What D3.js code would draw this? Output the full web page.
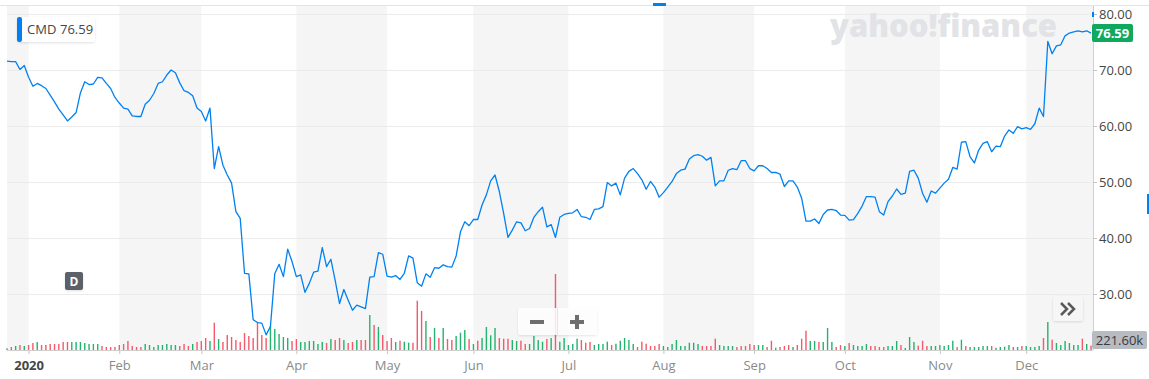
<!DOCTYPE html>
<html>
<head>
<meta charset="utf-8">
<script src="https://cdn.jsdelivr.net/npm/d3@7"></script>
<style>
  body { margin: 0; background: #fff; }
  svg { display: block; font-family: "Open Sans", "Helvetica Neue", Arial, sans-serif; }
</style>
</head>
<body>
<div id="chart"></div>
<script>
const symbol = "CMD";
const lastPrice = 76.59;
const lastVolumeLabel = "221.60k";

// trading days in each month shown (first entry = tail of Dec 2019)
const monthLabels = ["", "2020", "Feb", "Mar", "Apr", "May", "Jun", "Jul", "Aug", "Sep", "Oct", "Nov", "Dec"];
const monthDays = [5, 21, 19, 22, 21, 20, 22, 22, 21, 21, 22, 20, 16];
const priceTicks = [30, 40, 50, 60, 70, 80];

// daily closes
const closes = [
  71.6, 71.5, 71.5, 70.1, 70.8, 68.7, 67.1, 67.6, 67.2, 66.7,
  65.5, 64.3, 63.0, 62.0, 60.9, 61.6, 62.4, 65.9, 67.9, 67.4,
  67.5, 68.7, 68.6, 67.6, 66.7, 65.1, 64.1, 63.2, 63.0, 61.8,
  61.7, 61.7, 63.9, 64.6, 65.8, 67.6, 67.9, 69.1, 70.0, 69.5,
  67.7, 66.3, 66.0, 65.4, 63.2, 62.6, 60.9, 63.2, 52.4, 56.3,
  53.0, 51.25, 49.8, 44.7, 43.5, 33.7, 33.6, 25.4, 24.9, 24.8,
  22.7, 24.2, 33.6, 35.3, 33.1, 38.0, 35.8, 33.1, 33.4, 30.3,
  31.9, 33.9, 34.1, 38.3, 34.9, 36.2, 32.4, 28.3, 30.8, 28.9,
  27.1, 28.0, 27.7, 27.4, 33.0, 33.1, 37.4, 37.1, 33.2, 33.0,
  33.3, 32.6, 33.7, 36.8, 36.4, 32.0, 31.4, 33.6, 33.0, 34.7,
  34.6, 35.2, 34.9, 34.8, 36.8, 41.1, 42.9, 42.2, 43.3, 43.3,
  45.9, 47.7, 50.2, 51.25, 48.3, 44.4, 40.1, 41.4, 42.9, 42.7,
  41.3, 41.7, 43.7, 44.7, 45.5, 42.0, 42.4, 40.1, 43.7, 44.2,
  44.4, 44.5, 45.1, 43.8, 43.7, 43.3, 45.1, 45.2, 45.6, 49.9,
  49.3, 49.8, 47.7, 50.7, 51.9, 52.4, 51.5, 50.4, 48.7, 50.1,
  49.1, 47.3, 48.1, 49.1, 50.1, 51.5, 52.1, 52.3, 54.1, 54.7,
  54.9, 54.6, 53.9, 54.4, 49.3, 50.2, 50.2, 52.1, 52.4, 52.2,
  53.8, 53.8, 52.4, 52.0, 52.9, 52.9, 52.4, 51.7, 51.7, 51.4,
  49.2, 50.2, 50.2, 49.1, 47.1, 43.0, 43.0, 43.4, 42.6, 44.2,
  45.0, 45.1, 44.9, 44.1, 44.05, 43.2, 43.3, 44.4, 45.7, 47.4,
  47.4, 47.3, 44.7, 44.1, 46.5, 47.5, 48.75, 47.8, 48.0, 51.9,
  52.1, 50.7, 48.0, 46.4, 48.4, 48.0, 48.9, 49.8, 50.5, 52.6,
  52.3, 57.1, 57.2, 54.5, 53.4, 55.7, 56.9, 57.2, 55.4, 56.4,
  56.3, 58.2, 59.3, 58.7, 59.9, 59.5, 59.7, 59.4, 60.4, 63.2,
  61.7, 75.1, 72.9, 74.3, 74.5, 76.1, 76.6, 76.8, 77.0, 76.8,
  77.0, 76.59
];

// daily volume, thousands of shares
const volumes = [
  85, 150, 200, 250, 200, 250, 350, 400, 250, 250,
  300, 300, 300, 400, 400, 400, 400, 400, 350, 300,
  300, 300, 200, 150, 150, 150, 250, 300, 450, 200,
  150, 150, 300, 250, 150, 250, 250, 300, 250, 250,
  200, 300, 200, 300, 400, 450, 600, 450, 1365, 550,
  400, 750, 650, 500, 400, 850, 700, 600, 1400, 750,
  600, 1200, 1050, 800, 650, 600, 450, 550, 400, 400,
  450, 450, 300, 400, 350, 550, 500, 600, 500, 350,
  400, 500, 500, 500, 1750, 1250, 1150, 750, 450, 600,
  400, 465, 415, 365, 365, 2465, 1950, 1450, 650, 1100,
  600, 1100, 550, 500, 700, 865, 1000, 550, 300, 465,
  600, 1150, 735, 1100, 600, 565, 565, 500, 450, 465,
  300, 300, 700, 500, 415, 550, 600, 3800, 415, 600,
  250, 300, 565, 500, 365, 400, 250, 300, 300, 415,
  250, 315, 465, 600, 500, 300, 150, 415, 315, 200,
  200, 300, 200, 150, 300, 500, 200, 200, 365, 365,
  300, 200, 200, 200, 565, 250, 200, 200, 200, 150,
  200, 200, 300, 250, 250, 250, 150, 465, 115, 150,
  200, 250, 150, 250, 565, 965, 450, 450, 400, 400,
  1100, 400, 150, 250, 200, 350, 250, 200, 200, 300,
  200, 200, 150, 150, 200, 200, 450, 250, 100, 650,
  400, 215, 465, 200, 200, 200, 250, 200, 250, 465,
  150, 515, 200, 150, 150, 150, 200, 200, 200, 115,
  150, 165, 250, 150, 150, 200, 200, 150, 150, 200,
  600, 1400, 515, 350, 250, 450, 350, 250, 250, 565,
  300, 221.6
];

// g = up day, r = down day
const volumeDir = (
  "grgrgrrgrr" + "rrrrrggggg" + "ggrrrrrrrr" + "rrgggggggg" + "rrrgrrrgrg" +
  "rrrrrrrrrr" + "rgggggrrgg" + "ggggrgrrgr" + "rgrrgrgrrr" + "grggrrrgrg" +
  "rgrrgggrgr" + "ggggrrrggr" + "rggggrgrgg" + "gggrrrgggg" + "rgggggrrrr" +
  "rrgggggggg" + "grrrrggggr" + "rrrrggrrgr" + "rrgrrrggrg" + "ggrrgrgggg" +
  "rrrrgggrgg" + "grrrgggggg" + "rgrgggggrg" + "gggrgrgggg" + "rgrggggggr" +
  "gr"
).split("");

const width = 1149;
const height = 379;
const plotLeft = 7;
const plotRight = 1093;
const plotTop = 6;
const plotBottom = 350;

const blue = "#0081f2";
const upColor = "#22b46e";
const downColor = "#f5596a";

const monthStarts = Array.from(d3.cumsum([0, ...monthDays.slice(0, -1)]));

const x = d3.scaleLinear()
  .domain([0, closes.length - 1])
  .range([plotLeft, 1091]);

const y = d3.scaleLinear()
  .domain([20, 80])
  .range([plotBottom, 14]);

const yVol = d3.scaleLinear()
  .domain([0, 4000])
  .range([plotBottom, plotBottom - 80]);

const svg = d3.select("#chart")
  .append("svg")
  .attr("width", width)
  .attr("height", height);

// soft shadow for the floating widgets
const shadow = svg.append("defs")
  .append("filter")
  .attr("id", "shadow")
  .attr("x", "-20%").attr("y", "-30%")
  .attr("width", "140%").attr("height", "160%");
shadow.append("feDropShadow")
  .attr("dx", 0).attr("dy", 1)
  .attr("stdDeviation", 1.2)
  .attr("flood-color", "#000")
  .attr("flood-opacity", 0.12);

svg.append("rect")
  .attr("width", width)
  .attr("height", height)
  .attr("fill", "#fff");

// alternating month bands
const bands = monthStarts.map((s, i) => ({
  x0: x(s),
  x1: i < monthStarts.length - 1 ? x(monthStarts[i + 1]) : plotRight,
  shaded: i % 2 === 0
})).filter(d => d.shaded);

svg.append("g")
  .selectAll("rect")
  .data(bands)
  .enter()
  .append("rect")
  .attr("x", d => d.x0)
  .attr("y", plotTop)
  .attr("width", d => d.x1 - d.x0)
  .attr("height", plotBottom - plotTop)
  .attr("fill", "#f5f5f5");

// top border
svg.append("line")
  .attr("x1", 0).attr("x2", width)
  .attr("y1", 5.5).attr("y2", 5.5)
  .attr("stroke", "#e3e3ea");

// horizontal gridlines
svg.append("g")
  .selectAll("line")
  .data(priceTicks)
  .enter()
  .append("line")
  .attr("x1", plotLeft)
  .attr("x2", plotRight)
  .attr("y1", d => Math.round(y(d)) + 0.5)
  .attr("y2", d => Math.round(y(d)) + 0.5)
  .attr("stroke", "#ebebeb");

// watermark
svg.append("text")
  .attr("x", 830)
  .attr("y", 37)
  .attr("textLength", 227)
  .attr("lengthAdjust", "spacingAndGlyphs")
  .style("font-family", "'Open Sans', Arial, sans-serif")
  .style("font-weight", 800)
  .style("font-size", "31px")
  .style("fill", "#e2e3e6")
  .text("yahoo!finance");

// volume bars
svg.append("g")
  .selectAll("rect")
  .data(volumes)
  .enter()
  .append("rect")
  .attr("x", (d, i) => x(i) - 0.7)
  .attr("y", d => yVol(d))
  .attr("width", 1.4)
  .attr("height", d => plotBottom - yVol(d))
  .attr("fill", (d, i) => volumeDir[i] === "g" ? upColor : downColor);

// price line
const line = d3.line()
  .x((d, i) => x(i))
  .y(d => y(d));

svg.append("path")
  .datum(closes)
  .attr("d", line)
  .attr("fill", "none")
  .attr("stroke", blue)
  .attr("stroke-width", 1.3)
  .attr("stroke-linejoin", "round");

// bottom axis
const xAxis = d3.axisBottom(x)
  .tickValues(monthStarts.slice(1))
  .tickFormat((d, i) => monthLabels[i + 1])
  .tickSize(4)
  .tickPadding(7)
  .tickSizeOuter(0);

const gx = svg.append("g")
  .attr("transform", `translate(0,${plotBottom})`)
  .call(xAxis);

gx.select(".domain").remove();
gx.selectAll(".tick line").attr("stroke", "#c4c4c4");
gx.selectAll(".tick text")
  .style("font-size", "13px")
  .style("font-family", "'Open Sans', Arial, sans-serif")
  .style("fill", "#8a8a8a");
gx.selectAll(".tick text")
  .filter(d => d === monthStarts[1])
  .style("fill", "#464646")
  .style("font-weight", 700);

svg.append("line")
  .attr("x1", plotLeft).attr("x2", plotRight)
  .attr("y1", plotBottom + 0.5).attr("y2", plotBottom + 0.5)
  .attr("stroke", "#cfcfcf");

// right price axis
const yAxis = d3.axisRight(y)
  .tickValues(priceTicks)
  .tickFormat(d3.format(".2f"))
  .tickSize(4)
  .tickPadding(2)
  .tickSizeOuter(0);

const gy = svg.append("g")
  .attr("transform", `translate(${plotRight},0)`)
  .call(yAxis);

gy.select(".domain").remove();
gy.selectAll(".tick line").attr("stroke", "#c4c4c4");
gy.selectAll(".tick text")
  .style("font-size", "13px")
  .style("font-family", "'Open Sans', Arial, sans-serif")
  .style("fill", "#464646");

svg.append("line")
  .attr("x1", plotRight + 0.5).attr("x2", plotRight + 0.5)
  .attr("y1", plotTop).attr("y2", plotBottom)
  .attr("stroke", "#cfcfcf");

// small blue markers
svg.append("rect").attr("x", 653).attr("y", 3).attr("width", 13).attr("height", 3).attr("fill", blue);
svg.append("rect").attr("x", 1092).attr("y", 12).attr("width", 2).attr("height", 5).attr("fill", blue);
svg.append("rect").attr("x", 1147).attr("y", 194).attr("width", 2).attr("height", 20).attr("fill", blue);

// last price tag
svg.append("rect")
  .attr("x", 1092).attr("y", Math.round(y(lastPrice)) - 9)
  .attr("width", 41).attr("height", 18)
  .attr("rx", 2)
  .attr("fill", "#10a85e");
svg.append("text")
  .attr("x", 1112.5).attr("y", y(lastPrice) + 5)
  .attr("text-anchor", "middle")
  .style("font-size", "13px")
  .style("font-weight", 700)
  .style("fill", "#fff")
  .text(d3.format(".2f")(lastPrice));

// last volume tag
svg.append("rect")
  .attr("x", 1092).attr("y", 331)
  .attr("width", 55).attr("height", 18)
  .attr("rx", 2)
  .attr("fill", "#b8bbc2");
svg.append("text")
  .attr("x", 1119.5).attr("y", 345)
  .attr("text-anchor", "middle")
  .style("font-size", "13px")
  .style("fill", "#3a3a3a")
  .text(lastVolumeLabel);

// legend chip
const legend = svg.append("g");
legend.append("rect")
  .attr("x", 17).attr("y", 17)
  .attr("width", 78).attr("height", 25)
  .attr("rx", 3)
  .attr("fill", "#fff")
  .attr("filter", "url(#shadow)");
legend.append("rect")
  .attr("x", 17).attr("y", 17)
  .attr("width", 5).attr("height", 25)
  .attr("rx", 2)
  .attr("fill", blue);
legend.append("text")
  .attr("x", 27).attr("y", 34)
  .style("font-size", "13px")
  .style("fill", "#464646")
  .text(symbol);
legend.append("text")
  .attr("x", 60).attr("y", 34)
  .style("font-size", "13px")
  .style("fill", "#464646")
  .text(d3.format(".2f")(lastPrice));

// dividend marker
svg.append("rect")
  .attr("x", 65).attr("y", 272)
  .attr("width", 18).attr("height", 18)
  .attr("rx", 2)
  .attr("fill", "#5c6168")
  .attr("filter", "url(#shadow)");
svg.append("text")
  .attr("x", 74).attr("y", 286)
  .attr("text-anchor", "middle")
  .style("font-size", "12px")
  .style("font-weight", 700)
  .style("fill", "#fff")
  .text("D");

// zoom buttons
const zoomBox = svg.append("g");
zoomBox.append("rect")
  .attr("x", 518).attr("y", 308)
  .attr("width", 79).attr("height", 27)
  .attr("rx", 3)
  .attr("fill", "#fff")
  .attr("fill-opacity", 0.85)
  .attr("filter", "url(#shadow)");
zoomBox.append("line")
  .attr("x1", 557.5).attr("x2", 557.5)
  .attr("y1", 308).attr("y2", 335)
  .attr("stroke", "#e6e6e6");
zoomBox.append("rect").attr("x", 530).attr("y", 320).attr("width", 14).attr("height", 4).attr("fill", "#6e6e6e");
zoomBox.append("rect").attr("x", 570).attr("y", 320).attr("width", 14).attr("height", 4).attr("fill", "#6e6e6e");
zoomBox.append("rect").attr("x", 575).attr("y", 315).attr("width", 4).attr("height", 14).attr("fill", "#6e6e6e");

// scroll-right button
const scrollBtn = svg.append("g");
scrollBtn.append("rect")
  .attr("x", 1053).attr("y", 296)
  .attr("width", 30).attr("height", 25)
  .attr("rx", 3)
  .attr("fill", "#f6f6f6")
  .attr("filter", "url(#shadow)");
[1061, 1068].forEach(cx => {
  scrollBtn.append("polyline")
    .attr("points", `${cx},303 ${cx + 6},309 ${cx},315`)
    .attr("fill", "none")
    .attr("stroke", "#5a5a5a")
    .attr("stroke-width", 2.5);
});
</script>
</body>
</html>
